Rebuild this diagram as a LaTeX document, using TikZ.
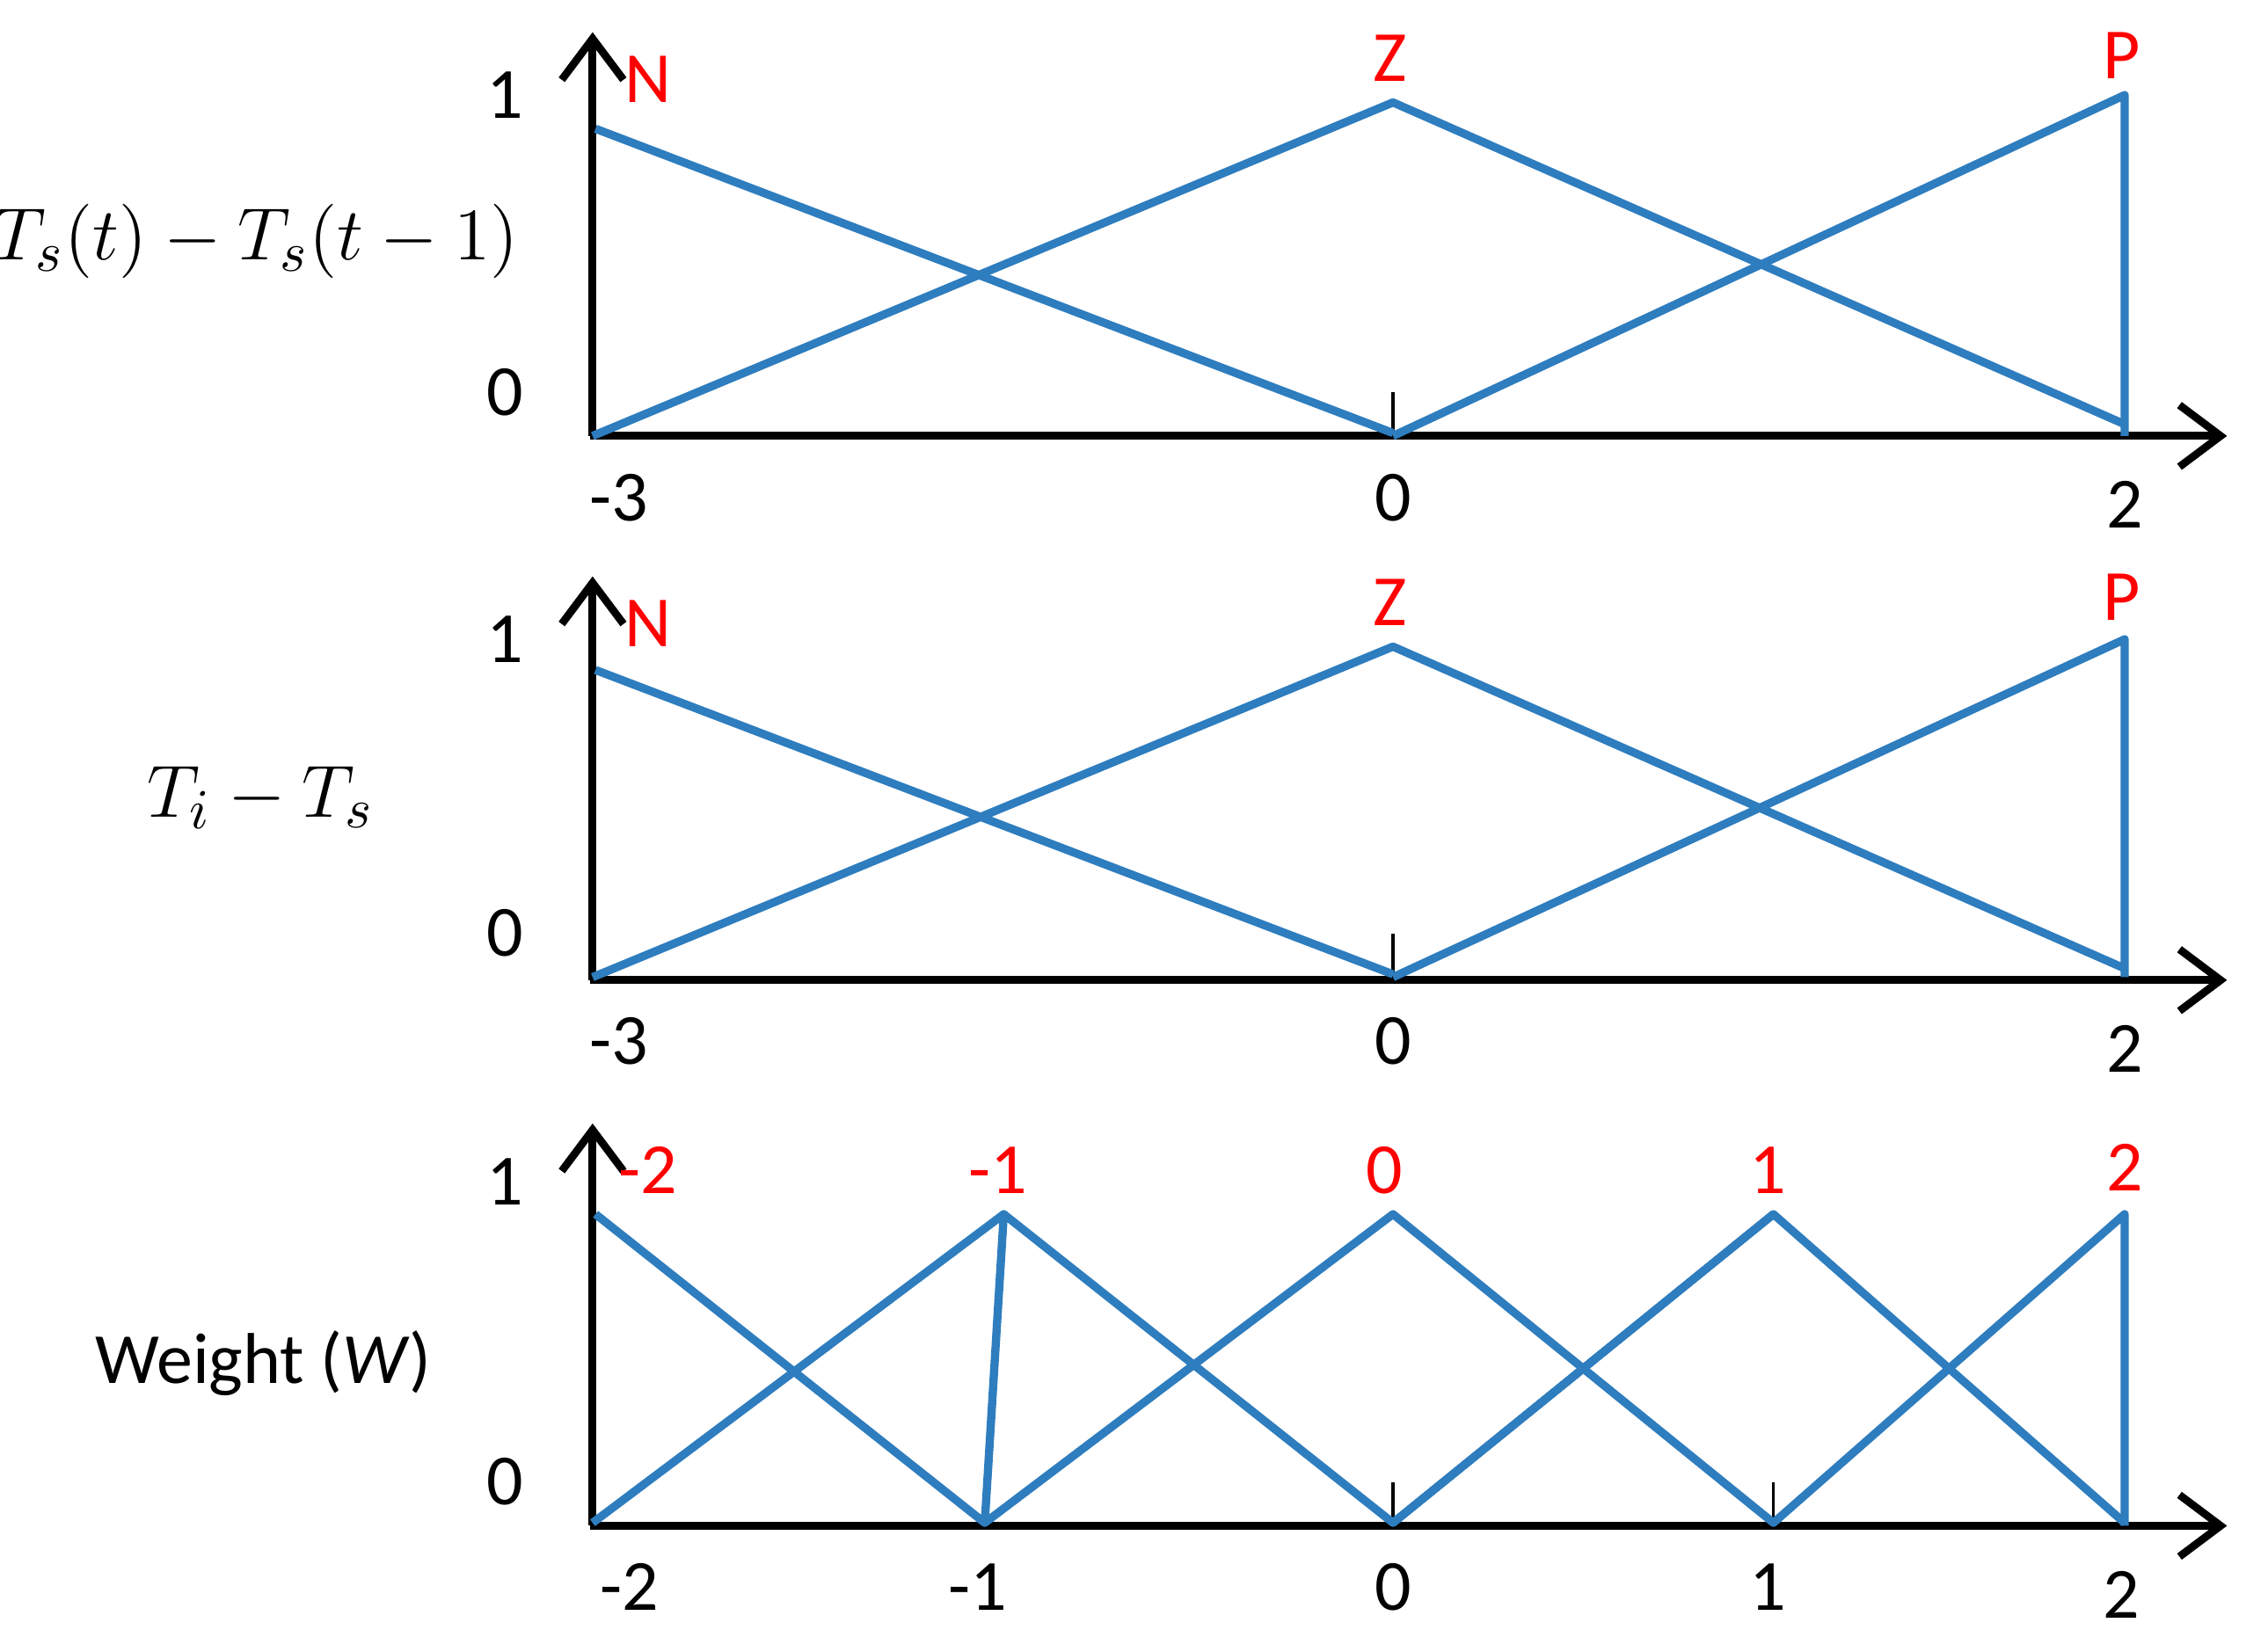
\documentclass[tikz,border=0pt]{standalone}
\usepackage{fontspec}
\setmainfont{Carlito}
\usetikzlibrary{arrows.meta}
\definecolor{mfblue}{RGB}{46,125,190}
\begin{document}
\begin{tikzpicture}[x=0.01cm,y=-0.01cm,
  axis/.style={line width=1.5pt,-{Straight Barb[length=8pt,width=12pt,line width=1.5pt]}},
  mf/.style={mfblue,line width=1.6pt,line join=round},
  lab/.style={font=\fontsize{14}{16}\selectfont},
  red/.style={lab,text=red},
  tk/.style={line width=0.6pt}]
\useasboundingbox (0,0) rectangle (1550,1114);
% Panel 1
\draw[axis] (405,298) -- (405,22);
\draw[axis] (403,298) -- (1522,298);
\draw[tk] (952,268) -- (952,298);
\draw[mf] (407,88) -- (952,296);
\draw[mf] (405,298) -- (952,70) -- (1452,290);
\draw[mf] (952,298) -- (1452,65) -- (1452,298);
\node[lab] (a1) at (345,65) {1};
\node[lab] (a0) at (345,268) {0};
\node[red] (aN) at (443,54) {N};
\node[red] (aZ) at (950,40) {Z};
\node[red] (aP) at (1450,38) {P};
\node[lab] (am3) at (423,340) {-3};
\node[lab] (ax0) at (952,340) {0};
\node[lab] (ax2) at (1452,345) {2};
\node[font=\fontsize{15}{17}\selectfont] (aL) at (175,165) {$T_s(t)-T_s(t-1)$};
% Panel 2
\draw[axis] (405,670) -- (405,394);
\draw[axis] (403,670) -- (1522,670);
\draw[tk] (952,638) -- (952,670);
\draw[mf] (407,458) -- (952,666);
\draw[mf] (405,668) -- (952,442) -- (1452,662);
\draw[mf] (952,668) -- (1452,437) -- (1452,668);
\node[lab] (b1) at (345,437) {1};
\node[lab] (b0) at (345,638) {0};
\node[red] (bN) at (443,426) {N};
\node[red] (bZ) at (950,412) {Z};
\node[red] (bP) at (1450,408) {P};
\node[lab] (bm3) at (423,712) {-3};
\node[lab] (bx0) at (952,712) {0};
\node[lab] (bx2) at (1452,717) {2};
\node[font=\fontsize{15}{17}\selectfont] (bL) at (178,545) {$T_i-T_s$};
% Panel 3
\draw[axis] (405,1043) -- (405,768);
\draw[axis] (403,1043) -- (1522,1043);
\foreach \x in {673,952,1212} \draw[tk] (\x,1013) -- (\x,1043);
\draw[mf] (407,830) -- (673,1041) -- (686,830) -- (952,1041) -- (1212,830) -- (1452,1041);
\draw[mf] (405,1041) -- (686,830);
\draw[mf] (673,1041) -- (952,830) -- (1212,1041) -- (1452,830) -- (1452,1043);
\draw[mf] (952,1041) -- (1212,830);
\node[lab] (c1) at (345,808) {1};
\node[lab] (c0) at (345,1013) {0};
\node[red] (cm2) at (443,800) {-2};
\node[red] (cm1) at (682,800) {-1};
\node[red] (c00) at (946,800) {0};
\node[red] (c11) at (1208,800) {1};
\node[red] (c22) at (1452,798) {2};
\node[lab] (dm2) at (430,1085) {-2};
\node[lab] (dm1) at (668,1085) {-1};
\node[lab] (dx0) at (952,1085) {0};
\node[lab] (dx1) at (1208,1085) {1};
\node[lab] (dx2) at (1450,1090) {2};
\node[lab] (cL) at (180,932) {Weight (\textit{W})};
\end{tikzpicture}
\end{document}
